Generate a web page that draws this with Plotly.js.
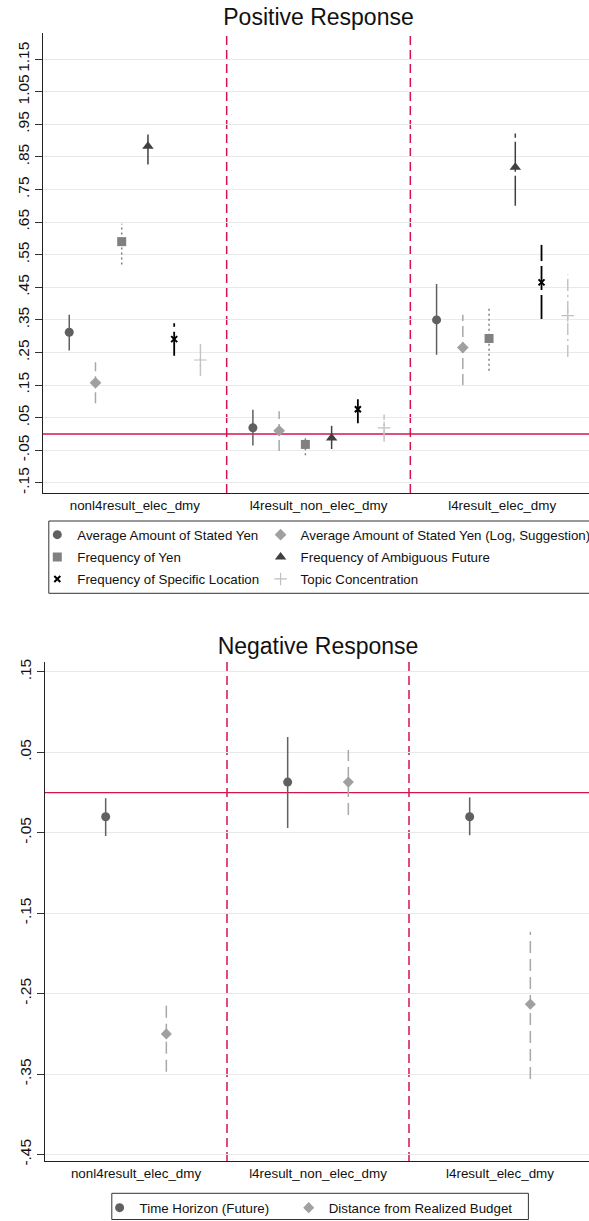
<!DOCTYPE html>
<html><head><meta charset="utf-8">
<script src="https://cdn.plot.ly/plotly-3.0.1.min.js"></script>
<style>
html,body{margin:0;padding:0;overflow:hidden;background:#fff;width:589px;height:1221px}
#top{position:absolute;left:0;top:0;width:600px;height:610px}
#bot{position:absolute;left:0;top:610px;width:600px;height:611px}
</style>
</head><body><div id="top"></div><div id="bot"></div>
<script>
const categories = ["nonl4result_elec_dmy", "l4result_non_elec_dmy", "l4result_elec_dmy"];

// ---- Positive Response: estimates and CI bounds per category ----
const posNames = ["Average Amount of Stated Yen", "Average Amount of Stated Yen (Log, Suggestion)", "Frequency of Yen", "Frequency of Ambiguous Future", "Frequency of Specific Location", "Topic Concentration"];
const avgYenEst = [0.312, 0.019, 0.350];
const avgYenLo  = [0.256, -0.035, 0.243];
const avgYenHi  = [0.366, 0.074, 0.460];
const logYenEst = [0.157, 0.010, 0.265];
const logYenLo  = [0.094, -0.052, 0.150];
const logYenHi  = [0.220, 0.070, 0.366];
const freqYenEst = [0.590, -0.032, 0.293];
const freqYenLo  = [0.520, -0.065, 0.194];
const freqYenHi  = [0.645, -0.010, 0.391];
const ambigEst = [0.883, -0.012, 0.818];
const ambigLo  = [0.827, -0.046, 0.700];
const ambigHi  = [0.927, 0.025, 0.922];
const locEst = [0.291, 0.076, 0.465];
const locLo  = [0.240, 0.033, 0.353];
const locHi  = [0.340, 0.113, 0.580];
const topicEst = [0.227, 0.019, 0.363];
const topicLo  = [0.178, -0.024, 0.236];
const topicHi  = [0.276, 0.060, 0.489];
const posTickVals = [-0.15, -0.05, 0.05, 0.15, 0.25, 0.35, 0.45, 0.55, 0.65, 0.75, 0.85, 0.95, 1.05, 1.15];
const posTickText = ["-.15", "-.05", ".05", ".15", ".25", ".35", ".45", ".55", ".65", ".75", ".85", ".95", "1.05", "1.15"];

// ---- Negative Response ----
const negNames = ["Time Horizon (Future)", "Distance from Realized Budget"];
const horizonEst = [-0.030, 0.013, -0.030];
const horizonLo  = [-0.054, -0.044, -0.053];
const horizonHi  = [-0.007, 0.069, -0.006];
const distEst = [-0.300, 0.013, -0.263];
const distLo  = [-0.347, -0.028, -0.356];
const distHi  = [-0.260, 0.053, -0.173];
const negTickVals = [0.15, 0.05, -0.05, -0.15, -0.25, -0.35, -0.45];
const negTickText = [".15", ".05", "-.05", "-.15", "-.25", "-.35", "-.45"];

// ---- styles ----
const FONT = "Liberation Sans, Arial, Helvetica, sans-serif";
const RED = "#d4144c";
const posStyles = [
  {symbol:"circle", size:9, color:"#606060", ci:"#606060", dash:"solid", lw:1.5},
  {symbol:"diamond", size:9, color:"#a0a0a0", ci:"#a8a8a8", dash:"11px,5px", lw:1.5},
  {symbol:"square", size:9, color:"#808080", ci:"#808080", dash:"2px,3px", lw:1.5},
  {symbol:"triangle-up", size:10, color:"#404040", ci:"#404040", dash:"30px,4px", lw:1.5},
  {symbol:"x-thin", size:6, color:"#000000", ci:"#000000", dash:"24px,5px", lw:1.8, mline:2},
  {symbol:"cross-thin", size:9, color:"#c0c0c0", ci:"#c4c4c4", dash:"12px,4px,2px,4px", lw:1.5, mline:1.2}
];
const negStyles = [
  {symbol:"circle", size:9, color:"#606060", ci:"#606060", dash:"solid", lw:1.5},
  {symbol:"diamond", size:8.5, color:"#a0a0a0", ci:"#a8a8a8", dash:"12px,6px", lw:1.5}
];

function buildTraces(names, est, lo, hi, styles, legendIds) {
  const nSlots = names.length + 1;
  const ciTraces = [], mkTraces = [];
  names.forEach((name, s) => {
    const st = styles[s];
    const xs = categories.map((c, g) => g + (s + 1) / nSlots);
    const cx = [], cy = [];
    categories.forEach((c, g) => { cx.push(xs[g], xs[g], null); cy.push(lo[s][g], hi[s][g], null); });
    ciTraces.push({type:"scatter", mode:"lines", x:cx, y:cy, showlegend:false, hoverinfo:"skip",
      line:{color:st.ci, width:st.lw, dash:st.dash}});
    mkTraces.push({type:"scatter", mode:"markers", name:name, x:xs, y:est[s], legend:legendIds[s],
      marker:{symbol:st.symbol, size:st.size, color:st.color,
        line:{width: st.mline || 0, color: st.color}}});
  });
  return ciTraces.concat(mkTraces);
}

function makeLayout(o) {
  const W = 600, H = o.H, m = o.margin;
  const pw = W - m.l - m.r, ph = H - m.t - m.b;
  const px = v => (v - m.l) / pw;
  const py = v => 1 - (v - m.t) / ph;
  const layout = {
    width: W, height: H, margin: m, paper_bgcolor:"#fff", plot_bgcolor:"#fff",
    font:{family:FONT, color:"#111"}, showlegend:true,
    title:{text:o.title, font:{size:23, family:FONT, color:"#111"}, x:0.5, xref:"paper", xanchor:"center",
      y: 1 - o.titleY / H, yref:"container", yanchor:"middle"},
    xaxis:{range:[0,3], tickvals:[0.5,1.5,2.5], ticktext:categories, showgrid:false, zeroline:false,
      showline:true, linecolor:"#222", linewidth:1, ticks:"", tickfont:{size:13.4, color:"#111"}, fixedrange:true},
    yaxis:{range:o.yrange, tickvals:o.tickvals, ticktext:o.ticktext, tickangle:-90, ticks:"outside", ticklen:7,
      tickcolor:"#333", tickwidth:1, showline:true, linecolor:"#222", linewidth:1, gridcolor:"#e9e9e9",
      gridwidth:1, zeroline:false, tickfont:{size:15.5, color:"#111"}, fixedrange:true},
    shapes:[
      {type:"line", xref:"paper", x0:0, x1:1, yref:"y", y0:0, y1:0, line:{color:RED, width:1.3}, layer:"below"},
      {type:"line", xref:"x", x0:1, x1:1, yref:"paper", y0:0, y1:1, line:{color:RED, width:1.5, dash:"9px,5px"}, layer:"below"},
      {type:"line", xref:"x", x0:2, x1:2, yref:"paper", y0:0, y1:1, line:{color:RED, width:1.5, dash:"9px,5px"}, layer:"below"},
      {type:"rect", xref:"paper", yref:"paper", x0:px(o.box[0]), x1:px(o.box[1]), y0:py(o.box[3]), y1:py(o.box[2]),
        line:{color:"#333", width:1}, fillcolor:"rgba(0,0,0,0)"}
    ]
  };
  o.legends.forEach((lg, i) => {
    const key = i === 0 ? "legend" : "legend" + (i + 1);
    layout[key] = {orientation:"h", xref:"container", yref:"container", x:(lg[0] - 20) / W, xanchor:"left",
      y: 1 - lg[1] / H, yanchor:"middle", bgcolor:"rgba(0,0,0,0)", borderwidth:0,
      font:{size:13.3, family:FONT, color:"#111"}};
  });
  return layout;
}

const posIds = ["legend","legend2","legend3","legend4","legend5","legend6"];
const posTraces = buildTraces(posNames,
  [avgYenEst, logYenEst, freqYenEst, ambigEst, locEst, topicEst],
  [avgYenLo, logYenLo, freqYenLo, ambigLo, locLo, topicLo],
  [avgYenHi, logYenHi, freqYenHi, ambigHi, locHi, topicHi], posStyles, posIds);
const posLayout = makeLayout({H:610, margin:{l:43, r:6, t:33, b:117, pad:0}, title:"Positive Response", titleY:17,
  yrange:[-0.181, 1.23], tickvals:posTickVals, ticktext:posTickText,
  box:[48.8, 640, 521, 593.3],
  legends:[[57.3,535],[280.6,535],[57.3,557.3],[280.6,557.3],[57.3,579.3],[280.6,579.3]]});
Plotly.newPlot("top", posTraces, posLayout, {staticPlot:true, displayModeBar:false});

const negIds = ["legend","legend2"];
const negTraces = buildTraces(negNames,
  [horizonEst, distEst], [horizonLo, distLo], [horizonHi, distHi], negStyles, negIds);
const negLayout = makeLayout({H:611, margin:{l:45, r:9, t:52, b:60, pad:0}, title:"Negative Response", titleY:36,
  yrange:[-0.458, 0.1623], tickvals:negTickVals, ticktext:negTickText,
  box:[111.8, 528.4, 583.3, 609.5],
  legends:[[119.6,598],[308.7,598]]});
Plotly.newPlot("bot", negTraces, negLayout, {staticPlot:true, displayModeBar:false});
</script>
</body></html>
